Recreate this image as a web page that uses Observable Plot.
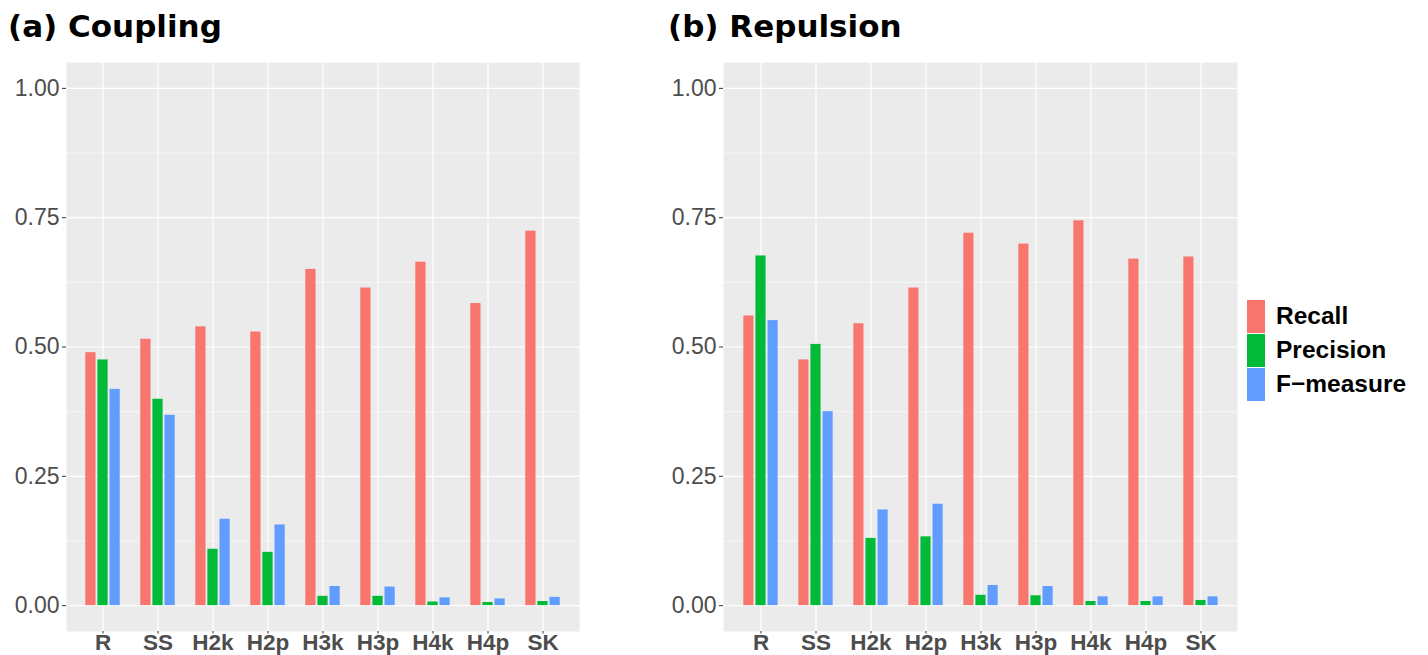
<!DOCTYPE html>
<html>
<head>
<meta charset="utf-8">
<script src="https://cdn.jsdelivr.net/npm/d3@7"></script>
<script src="https://cdn.jsdelivr.net/npm/@observablehq/plot@0.6"></script>
<style>
  html, body { margin: 0; padding: 0; background: #fff; }
  body { width: 1428px; height: 655px; position: relative; overflow: hidden; font-family: "Liberation Sans", Arial, sans-serif; }
  .title { position: absolute; font-family: "DejaVu Sans", sans-serif; font-weight: bold; font-size: 31px; line-height: 31px; color: #000; white-space: nowrap; }
  .chart { position: absolute; top: 50px; }
  .legend { position: absolute; left: 1247px; top: 299px; }
  .legend .row { display: flex; align-items: center; height: 34px; }
  .legend .key { width: 18px; height: 33px; }
  .legend .lab { margin-left: 11px; font-weight: bold; font-size: 24.5px; color: #000; white-space: nowrap; }
</style>
</head>
<body>
<div class="title" id="ta" style="left:8px; top:11px;">(a) Coupling</div>
<div class="title" id="tb" style="left:668px; top:11px;">(b) Repulsion</div>
<div class="chart" id="ca" style="left:0px;"></div>
<div class="chart" id="cb" style="left:657px;"></div>
<div class="legend" id="legend"></div>
<script>
const categories = ["R", "SS", "H2k", "H2p", "H3k", "H3p", "H4k", "H4p", "SK"];
const series = ["Recall", "Precision", "F\u2212measure"];
const seriesColors = ["#F8766D", "#00BA38", "#619CFF"];
const yTicks = [0, 0.25, 0.5, 0.75, 1];
const yMinorTicks = [0.125, 0.375, 0.625, 0.875];

const couplingRecall    = [0.489, 0.515, 0.539, 0.529, 0.650, 0.614, 0.664, 0.584, 0.724];
const couplingPrecision = [0.475, 0.399, 0.109, 0.103, 0.018, 0.018, 0.007, 0.006, 0.008];
const couplingFmeasure  = [0.418, 0.368, 0.167, 0.156, 0.037, 0.036, 0.015, 0.013, 0.016];

const repulsionRecall    = [0.560, 0.475, 0.545, 0.614, 0.720, 0.699, 0.744, 0.670, 0.674];
const repulsionPrecision = [0.676, 0.505, 0.130, 0.133, 0.020, 0.019, 0.008, 0.008, 0.010];
const repulsionFmeasure  = [0.551, 0.375, 0.185, 0.196, 0.039, 0.037, 0.017, 0.017, 0.017];

function makePanel(values, width, marginLeft, marginRight) {
  const table = [];
  categories.forEach((c, i) => {
    series.forEach((s, j) => table.push({cat: c, series: s, value: values[j][i]}));
  });
  const plotW = width - marginLeft - marginRight;
  const band = plotW / (categories.length + 0.2);
  const barW = 11, barStep = 12.1;
  const inset = (band - barW) / 2;
  return Plot.plot({
    width, height: 605,
    marginLeft, marginRight, marginTop: 12, marginBottom: 24,
    style: {fontFamily: "Liberation Sans, Arial, sans-serif", background: "transparent"},
    x: {type: "band", domain: categories, paddingInner: 0, paddingOuter: 0.1, label: null},
    y: {domain: [-0.05, 1.05], label: null},
    color: {domain: series, range: seriesColors},
    marks: [
      Plot.frame({fill: "#EBEBEB", stroke: "none"}),
      Plot.gridY(yMinorTicks, {stroke: "#fff", strokeOpacity: 1, strokeWidth: 0.6}),
      Plot.gridY(yTicks, {stroke: "#fff", strokeOpacity: 1, strokeWidth: 1.2}),
      Plot.gridX({stroke: "#fff", strokeOpacity: 1, strokeWidth: 1.2}),
      ...series.map((s, j) => Plot.barY(table.filter(d => d.series === s), {
        x: "cat", y: "value", fill: "series",
        insetLeft: inset, insetRight: inset, dx: (j - 1) * barStep
      })),
      Plot.axisY(yTicks, {tickFormat: d3.format(".2f"), tickSize: 4, tickPadding: 3, fontSize: 23, fill: "#4d4d4d", stroke: "#333", label: null}),
      Plot.axisX({tickSize: 2.5, tickPadding: 0, fontSize: 22.5, fontWeight: "bold", fill: "#4d4d4d", stroke: "#333", label: null})
    ]
  });
}

const chartA = makePanel([couplingRecall, couplingPrecision, couplingFmeasure], 590, 66, 11);
const chartB = makePanel([repulsionRecall, repulsionPrecision, repulsionFmeasure], 600, 66, 20);
document.getElementById("ca").appendChild(chartA);
document.getElementById("cb").appendChild(chartB);

const colorScale = chartA.scale("color");
const legend = document.getElementById("legend");
colorScale.domain.forEach((s, i) => {
  const row = document.createElement("div");
  row.className = "row";
  const key = document.createElement("div");
  key.className = "key";
  key.style.background = colorScale.range[i];
  const lab = document.createElement("span");
  lab.className = "lab";
  lab.textContent = s;
  row.appendChild(key);
  row.appendChild(lab);
  legend.appendChild(row);
});
</script>
</body>
</html>
